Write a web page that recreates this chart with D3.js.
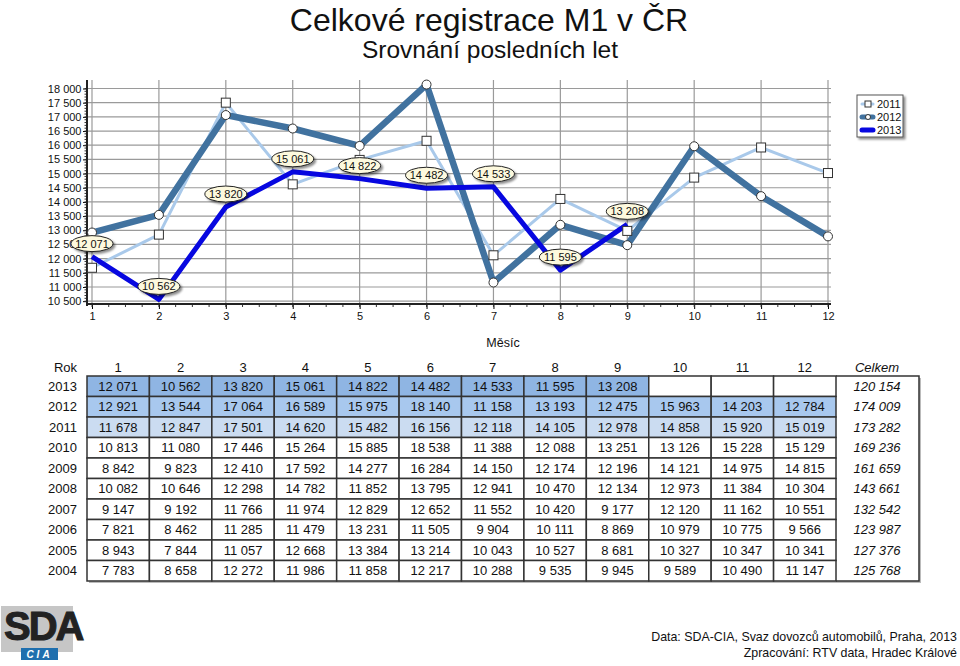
<!DOCTYPE html>
<html><head><meta charset="utf-8">
<script src="https://cdn.jsdelivr.net/npm/d3@7/dist/d3.min.js"></script>
<style>
body{margin:0;background:#fff;}
svg{display:block;font-family:Arial,"Liberation Sans",sans-serif;}
</style></head><body>
<svg id="c" width="960" height="666"></svg>
<script>
const months = [1,2,3,4,5,6,7,8,9,10,11,12];
const monthLabels = ["1","2","3","4","5","6","7","8","9","10","11","12"];
const years = [2013,2012,2011,2010,2009,2008,2007,2006,2005,2004];
const v2013 = [12071,10562,13820,15061,14822,14482,14533,11595,13208,null,null,null];
const v2012 = [12921,13544,17064,16589,15975,18140,11158,13193,12475,15963,14203,12784];
const v2011 = [11678,12847,17501,14620,15482,16156,12118,14105,12978,14858,15920,15019];
const v2010 = [10813,11080,17446,15264,15885,18538,11388,12088,13251,13126,15228,15129];
const v2009 = [8842,9823,12410,17592,14277,16284,14150,12174,12196,14121,14975,14815];
const v2008 = [10082,10646,12298,14782,11852,13795,12941,10470,12134,12973,11384,10304];
const v2007 = [9147,9192,11766,11974,12829,12652,11552,10420,9177,12120,11162,10551];
const v2006 = [7821,8462,11285,11479,13231,11505,9904,10111,8869,10979,10775,9566];
const v2005 = [8943,7844,11057,12668,13384,13214,10043,10527,8681,10327,10347,10341];
const v2004 = [7783,8658,12272,11986,11858,12217,10288,9535,9945,9589,10490,11147];
const totals = [120154,174009,173282,169236,161659,143661,132542,123987,127376,125768];
const yTicks = [10500,11000,11500,12000,12500,13000,13500,14000,14500,15000,15500,16000,16500,17000,17500,18000];
const title = "Celkové registrace M1 v ČR";
const subtitle = "Srovnání posledních let";
const xTitle = "Měsíc";

const rows = [v2013,v2012,v2011,v2010,v2009,v2008,v2007,v2006,v2005,v2004];
const loc = d3.formatLocale({decimal:",",thousands:"\u00a0",grouping:[3],currency:["","Kč"]});
const fmt = loc.format(",d");

const svg = d3.select("#c");
const defs = svg.append("defs");
const f = defs.append("filter").attr("id","sh").attr("x","-20%").attr("y","-30%").attr("width","150%").attr("height","180%");
f.append("feDropShadow").attr("dx",2).attr("dy",2).attr("stdDeviation",0.8).attr("flood-color","#000").attr("flood-opacity",0.45);

// titles
svg.append("text").attr("x",489).attr("y",31).attr("text-anchor","middle").attr("font-size",32).attr("fill","#111").text(title);
svg.append("text").attr("x",490).attr("y",58).attr("text-anchor","middle").attr("font-size",24.5).attr("fill","#111").text(subtitle);

// scales
const x = d3.scaleLinear().domain([1,12]).range([92,828]);
const y = d3.scaleLinear().domain([10400,18300]).range([304,80]);
const plotL = 87, plotR = 831, plotT = 80, plotB = 304;

// grid
const g = svg.append("g");
g.selectAll("line.h").data(yTicks).join("line")
  .attr("x1",plotL).attr("x2",plotR).attr("y1",d=>y(d)).attr("y2",d=>y(d))
  .attr("stroke","#9a9a9a").attr("stroke-width",1.2);
g.selectAll("line.v").data(months).join("line")
  .attr("x1",d=>x(d)).attr("x2",d=>x(d)).attr("y1",plotT).attr("y2",plotB)
  .attr("stroke","#9a9a9a").attr("stroke-width",1.2);

// y axis
const yMinor = d3.range(10500,18001,100);
const ya = svg.append("g").attr("transform",`translate(${plotL},0)`);
ya.call(d3.axisLeft(y).tickValues(yTicks).tickFormat(fmt).tickSize(4).tickPadding(1.5));
ya.selectAll("text").attr("font-size",11).attr("fill","#111").attr("font-family","Arial, Liberation Sans, sans-serif");
ya.select(".domain").remove();
ya.append("g").selectAll("line").data(yMinor).join("line")
  .attr("x1",-2.5).attr("x2",0).attr("y1",d=>y(d)).attr("y2",d=>y(d)).attr("stroke","#333");
ya.append("line").attr("x1",0).attr("x2",0).attr("y1",plotT).attr("y2",plotB+2).attr("stroke","#222").attr("stroke-width",2);

// x axis
const xMinor = d3.range(1,12.01,0.25);
const xa = svg.append("g").attr("transform",`translate(0,${plotB})`);
xa.call(d3.axisBottom(x).tickValues(months).tickFormat((d,i)=>monthLabels[i]).tickSize(5).tickPadding(3));
xa.selectAll("text").attr("font-size",11).attr("fill","#111").attr("font-family","Arial, Liberation Sans, sans-serif");
xa.select(".domain").remove();
xa.append("g").selectAll("line").data(xMinor).join("line")
  .attr("x1",d=>x(d)).attr("x2",d=>x(d)).attr("y1",0).attr("y2",3).attr("stroke","#333");
xa.append("line").attr("x1",plotL-1).attr("x2",plotR).attr("y1",0).attr("y2",0).attr("stroke","#222").attr("stroke-width",2);
svg.append("text").attr("x",503).attr("y",347).attr("text-anchor","middle").attr("font-size",12.5).attr("fill","#111").text(xTitle);

// lines
const line = d3.line().defined(d=>d!=null).x((d,i)=>x(months[i])).y(d=>y(d));
const c2011 = "#a9c9ea", c2012 = "#41729f", c2013 = "#0707e0";
svg.append("path").datum(v2011).attr("d",line).attr("fill","none").attr("stroke",c2011).attr("stroke-width",3).attr("stroke-linejoin","round");
svg.append("path").datum(v2012).attr("d",line).attr("fill","none").attr("stroke",c2012).attr("stroke-width",6.5).attr("stroke-linejoin","round");
svg.append("path").datum(v2013).attr("d",line).attr("fill","none").attr("stroke",c2013).attr("stroke-width",5).attr("stroke-linejoin","round");

svg.append("g").selectAll("rect").data(v2011).join("rect")
  .attr("x",(d,i)=>x(months[i])-4.5).attr("y",d=>y(d)-4.5).attr("width",9).attr("height",9)
  .attr("fill","#fff").attr("stroke","#333").attr("stroke-width",1);
svg.append("g").selectAll("circle").data(v2012).join("circle")
  .attr("cx",(d,i)=>x(months[i])).attr("cy",d=>y(d)).attr("r",4.5)
  .attr("fill","#fff").attr("stroke","#333").attr("stroke-width",1);

// labels 2013
const lab = svg.append("g").selectAll("g").data(v2013.map((v,i)=>({v,m:months[i]})).filter(d=>d.v!=null)).join("g")
  .attr("transform",d=>`translate(${x(d.m)},${y(d.v)-13})`);
lab.append("ellipse").attr("rx",21).attr("ry",8).attr("fill","#fdf9de").attr("stroke","#222").attr("stroke-width",1).attr("filter","url(#sh)");
lab.append("text").attr("text-anchor","middle").attr("y",4).attr("font-size",11).attr("fill","#111").text(d=>fmt(d.v));

// legend
const lg = svg.append("g").attr("transform","translate(857,95)");
lg.append("rect").attr("width",46).attr("height",42).attr("fill","#fff").attr("stroke","#555").attr("stroke-width",1).attr("filter","url(#sh)");
const legItems = [{n:"2011",c:c2011,w:3,m:"sq"},{n:"2012",c:c2012,w:5,m:"ci"},{n:"2013",c:c2013,w:5,m:null}];
legItems.forEach((it,i)=>{
  const yy = 9+i*13;
  lg.append("line").attr("x1",5).attr("x2",16).attr("y1",yy).attr("y2",yy).attr("stroke",it.c).attr("stroke-width",it.w).attr("stroke-linecap","round");
  if(it.m==="sq") lg.append("rect").attr("x",8).attr("y",yy-3).attr("width",6).attr("height",6).attr("fill","#fff").attr("stroke","#333");
  if(it.m==="ci") lg.append("circle").attr("cx",11).attr("cy",yy).attr("r",2.5).attr("fill","#fff").attr("stroke","#333");
  lg.append("text").attr("x",20).attr("y",yy+4).attr("font-size",11).attr("fill","#111").text(it.n);
});

// table
const tL = 87, tT = 376, rh = 20.5, tR = 919, fs = 13;
const tc = d3.scaleBand().domain(months).range([tL,836]);
const tr = d3.scaleBand().domain(years).range([tT,tT+rh*years.length]);
const tg = svg.append("g");
tg.append("text").attr("x",77).attr("y",372).attr("text-anchor","end").attr("font-size",fs).attr("fill","#111").text("Rok");
tg.selectAll("text.mh").data(months).join("text").attr("class","mh")
  .attr("x",d=>tc(d)+tc.bandwidth()/2).attr("y",372).attr("text-anchor","middle").attr("font-size",fs).attr("fill","#111").text((d,i)=>monthLabels[i]);
tg.append("text").attr("x",877).attr("y",372).attr("text-anchor","middle").attr("font-size",fs).attr("font-style","italic").attr("fill","#111").text("Celkem");
tg.append("rect").attr("x",tL+2).attr("y",tT+2).attr("width",tR-tL).attr("height",rh*years.length).attr("fill","#bbb");
tg.append("rect").attr("x",tL).attr("y",tT).attr("width",tR-tL).attr("height",rh*years.length).attr("fill","#fff");
const rowFill = {2013:"#8fb5e3",2012:"#a8c8ee",2011:"#cbdcf1"};
years.forEach((yr,ri)=>{
  const vals = rows[ri];
  const ry = tr(yr);
  tg.append("text").attr("x",77).attr("y",ry+rh/2+4.5).attr("text-anchor","end").attr("font-size",fs).attr("fill","#111").text(yr);
  vals.forEach((v,ci)=>{
    const cx = tc(months[ci]);
    tg.append("rect").attr("x",cx).attr("y",ry).attr("width",tc.bandwidth()).attr("height",rh)
      .attr("fill",(v!=null && rowFill[yr])?rowFill[yr]:"#fff").attr("stroke","#333").attr("stroke-width",1.5);
    if(v!=null) tg.append("text").attr("x",cx+tc.bandwidth()/2).attr("y",ry+rh/2+4.5).attr("text-anchor","middle").attr("font-size",fs).attr("fill","#111").text(fmt(v));
  });
  tg.append("text").attr("x",877).attr("y",ry+rh/2+4.5).attr("text-anchor","middle").attr("font-size",fs).attr("font-style","italic").attr("fill","#111").text(fmt(totals[ri]));
});
tg.append("path").attr("d",`M836,${tT}H${tR}V${tT+rh*years.length}H836`).attr("fill","none").attr("stroke","#333").attr("stroke-width",1.5);

// logo
const lo = svg.append("g");
lo.append("rect").attr("x",1).attr("y",606).attr("width",72).attr("height",46).attr("fill","#c6c6c6");
lo.append("text").attr("x",4).attr("y",640).attr("font-size",40).attr("font-weight","bold").attr("letter-spacing",-2).attr("fill","#222").attr("stroke","#222").attr("stroke-width",1).text("SDA");
lo.append("rect").attr("x",21).attr("y",648).attr("width",37).attr("height",12).attr("fill","#1f6fae");
lo.append("text").attr("x",39.5).attr("y",658).attr("text-anchor","middle").attr("font-size",10).attr("font-weight","bold").attr("font-style","italic").attr("letter-spacing",3).attr("fill","#fff").text("CIA");

// source
svg.append("text").attr("x",957).attr("y",641).attr("text-anchor","end").attr("font-size",12.4).attr("fill","#111").text("Data: SDA-CIA, Svaz dovozců automobilů, Praha, 2013");
svg.append("text").attr("x",957).attr("y",657).attr("text-anchor","end").attr("font-size",12.4).attr("fill","#111").text("Zpracování: RTV data, Hradec Králové");
</script></body></html>
